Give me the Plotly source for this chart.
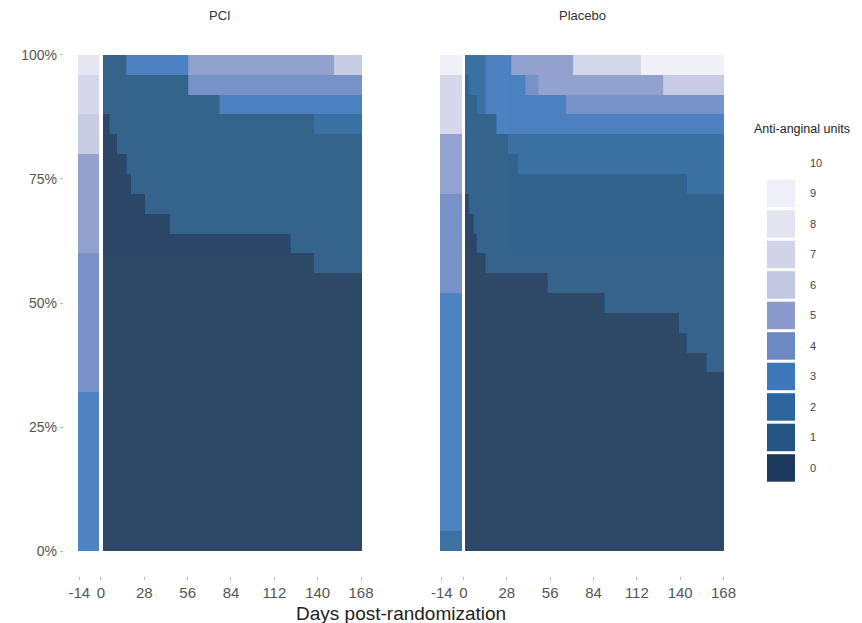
import plotly.graph_objects as go

N_PATIENTS = 25
UNIT_LEVELS = list(range(10))
UNIT_COLORS = ["#1d3a5c", "#255683", "#2b659c", "#3d78bb", "#6c89c2",
               "#8a9acc", "#c2c8e1", "#d1d4e8", "#e2e4f0", "#efeff7"]

X_TICKS = [-14, 0, 28, 56, 84, 112, 140, 168]
X_TICK_TEXT = ["-14", "0", "28", "56", "84", "112", "140", "168"]
Y_TICKS = [0, 25, 50, 75, 100]
Y_TICK_TEXT = ["0%", "25%", "50%", "75%", "100%"]
LAST_DAY = 168
BASELINE_DAY = -14

# ---- PCI arm: patients per anti-anginal unit level ----
pci_baseline = [0, 0, 0, 8, 7, 5, 2, 2, 1, 0]
pci_change_days = [2, 6, 11, 17, 20, 29, 45, 57, 77, 123, 138, 151]
pci_u0 = [22, 21, 20, 19, 18, 17, 16, 16, 16, 15, 14, 14]
pci_u1 = [3, 4, 5, 5, 6, 7, 8, 7, 6, 7, 7, 7]
pci_u2 = [0, 0, 0, 0, 0, 0, 0, 0, 0, 0, 1, 1]
pci_u3 = [0, 0, 0, 1, 1, 1, 1, 0, 1, 1, 1, 1]
pci_u4 = [0, 0, 0, 0, 0, 0, 0, 1, 1, 1, 1, 1]
pci_u5 = [0, 0, 0, 0, 0, 0, 0, 1, 1, 1, 1, 0]
pci_u6 = [0, 0, 0, 0, 0, 0, 0, 0, 0, 0, 0, 1]
pci_u7 = [0] * 12
pci_u8 = [0] * 12
pci_u9 = [0] * 12

# ---- Placebo arm ----
pla_baseline = [0, 0, 1, 12, 5, 3, 0, 3, 0, 1]
pla_change_days = [2, 4, 7, 9, 15, 22, 29, 32, 36, 41, 49, 55, 67, 72, 92,
                   116, 130, 140, 145, 158]
pla_u0 = [18, 17, 16, 15, 14, 14, 14, 14, 14, 14, 14, 13, 13, 13, 12, 12, 12, 11, 10, 9]
pla_u1 = [6, 6, 7, 7, 8, 7, 6, 6, 5, 5, 5, 6, 6, 6, 7, 7, 7, 8, 8, 9]
pla_u2 = [1, 2, 2, 3, 0, 0, 1, 1, 2, 2, 2, 2, 2, 2, 2, 2, 2, 2, 3, 3]
pla_u3 = [0, 0, 0, 0, 3, 4, 4, 3, 3, 2, 2, 2, 1, 1, 1, 1, 1, 1, 1, 1]
pla_u4 = [0, 0, 0, 0, 0, 0, 0, 0, 0, 1, 0, 0, 1, 1, 1, 1, 1, 1, 1, 1]
pla_u5 = [0, 0, 0, 0, 0, 0, 0, 1, 1, 1, 2, 2, 2, 1, 1, 1, 0, 0, 0, 0]
pla_u6 = [0, 0, 0, 0, 0, 0, 0, 0, 0, 0, 0, 0, 0, 0, 0, 0, 1, 1, 1, 1]
pla_u7 = [0, 0, 0, 0, 0, 0, 0, 0, 0, 0, 0, 0, 0, 1, 1, 0, 0, 0, 0, 0]
pla_u8 = [0] * 20
pla_u9 = [0, 0, 0, 0, 0, 0, 0, 0, 0, 0, 0, 0, 0, 0, 0, 1, 1, 1, 1, 1]

ARMS = [
    ("PCI", pci_baseline, pci_change_days,
     [pci_u0, pci_u1, pci_u2, pci_u3, pci_u4, pci_u5, pci_u6, pci_u7, pci_u8, pci_u9]),
    ("Placebo", pla_baseline, pla_change_days,
     [pla_u0, pla_u1, pla_u2, pla_u3, pla_u4, pla_u5, pla_u6, pla_u7, pla_u8, pla_u9]),
]

W, H = 862, 623
PLOT_TOP, PLOT_BOTTOM = 30, 576
FONT = "Liberation Sans, Arial, Helvetica, sans-serif"
PANEL_PX = [(63.8, 376.5), (426.3, 739)]


def px_x(p):
    return p / W


def px_y(p):
    return (PLOT_BOTTOM - p) / (PLOT_BOTTOM - PLOT_TOP)


def expand_runs(change_days, counts):
    """Decode run-length step data into one count per follow-up day."""
    days, vals = [], []
    for i, start in enumerate(change_days):
        end = change_days[i + 1] - 1 if i + 1 < len(change_days) else LAST_DAY
        for d in range(start, end + 1):
            days.append(d)
            vals.append(counts[i])
    return days, vals


fig = go.Figure()
axis_ids = [("x", "y"), ("x2", "y2")]

for (arm, baseline, change_days, per_level), (xa, ya) in zip(ARMS, axis_ids):
    for lvl in UNIT_LEVELS:
        days, counts = expand_runs(change_days, per_level[lvl])
        x = [BASELINE_DAY] + days
        y = [100 * baseline[lvl] / N_PATIENTS] + [100 * c / N_PATIENTS for c in counts]
        widths = [14] + [1] * len(days)
        offsets = [-1] + [-0.5] * len(days)
        fig.add_trace(go.Bar(
            x=x, y=y, width=widths, offset=offsets,
            marker=dict(color=UNIT_COLORS[lvl], line=dict(width=0)),
            opacity=0.92, name=str(lvl), showlegend=False,
            xaxis=xa, yaxis=ya,
            hovertemplate=arm + " day %{x}<br>" + str(lvl) + " units: %{y:.0f}%<extra></extra>",
        ))

xaxis_common = dict(
    range=[-24, 178], tickvals=X_TICKS, ticktext=X_TICK_TEXT, ticks="outside", ticklen=3,
    tickcolor="#b8b8b8", tickwidth=1, showgrid=False, zeroline=False,
    showline=False, tickfont=dict(family=FONT, size=15, color="#555555"),
)

fig.update_layout(
    width=W, height=H, barmode="stack",
    margin=dict(l=0, r=0, t=PLOT_TOP, b=H - PLOT_BOTTOM),
    paper_bgcolor="white", plot_bgcolor="white",
    xaxis=dict(domain=[px_x(PANEL_PX[0][0]), px_x(PANEL_PX[0][1])], anchor="y", **xaxis_common),
    xaxis2=dict(domain=[px_x(PANEL_PX[1][0]), px_x(PANEL_PX[1][1])], anchor="y2", **xaxis_common),
    yaxis=dict(
        anchor="x", domain=[0, 1], range=[-5, 105],
        tickvals=Y_TICKS, ticktext=Y_TICK_TEXT,
        ticks="outside", ticklen=3, tickcolor="#b8b8b8", tickwidth=1,
        showgrid=False, zeroline=False, showline=False,
        tickfont=dict(family=FONT, size=14, color="#555555"),
    ),
    yaxis2=dict(
        anchor="x2", domain=[0, 1], matches="y", range=[-5, 105],
        showticklabels=False, ticks="", showgrid=False, zeroline=False, showline=False,
    ),
    font=dict(family=FONT),
)

annotations = []
# panel strip titles
for (arm, *_), dom in zip(ARMS, PANEL_PX):
    annotations.append(dict(
        text=arm, x=px_x((dom[0] + dom[1]) / 2), y=px_y(15), xref="paper", yref="paper",
        showarrow=False, xanchor="center", yanchor="middle",
        font=dict(family=FONT, size=13, color="#333333"),
    ))
# shared x-axis title
annotations.append(dict(
    text="Days post-randomization", x=px_x(401), y=px_y(613), xref="paper", yref="paper",
    showarrow=False, xanchor="center", yanchor="middle",
    font=dict(family=FONT, size=19, color="#222222"),
))

# legend: stacked colour keys with level labels
shapes = []
KEY_X0, KEY_X1 = 767, 795
KEY_BOTTOM, KEY_PITCH, KEY_H = 481.7, 30.5, 27.5
annotations.append(dict(
    text="Anti-anginal units", x=px_x(752), y=px_y(129), xref="paper", yref="paper",
    showarrow=False, xanchor="left", yanchor="middle",
    font=dict(family=FONT, size=12.5, color="#222222"),
))
for lvl in UNIT_LEVELS + [10]:
    bottom = KEY_BOTTOM - lvl * KEY_PITCH
    top = bottom - KEY_H
    if lvl < 10:
        shapes.append(dict(
            type="rect", xref="paper", yref="paper",
            x0=px_x(KEY_X0), x1=px_x(KEY_X1), y0=px_y(bottom), y1=px_y(top),
            fillcolor=UNIT_COLORS[lvl], line=dict(width=0),
        ))
    annotations.append(dict(
        text=str(lvl), x=px_x(808), y=px_y((top + bottom) / 2), xref="paper", yref="paper",
        showarrow=False, xanchor="left", yanchor="middle",
        font=dict(family=FONT, size=11, color="#444444"),
    ))

fig.update_layout(annotations=annotations, shapes=shapes)
fig.write_html("out.html")
